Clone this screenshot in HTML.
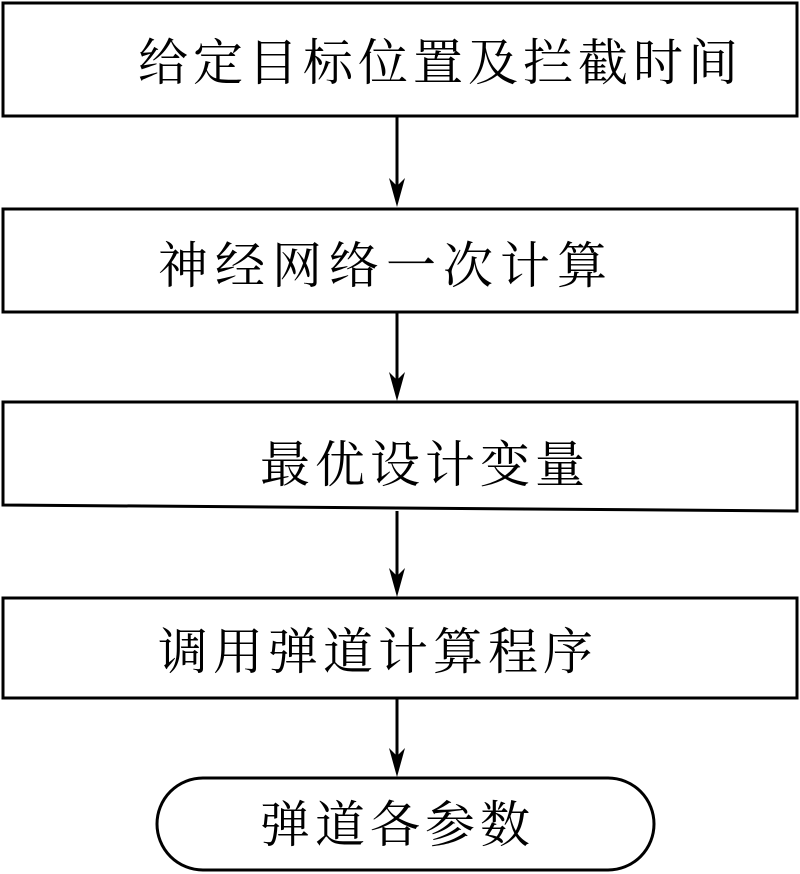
<!DOCTYPE html>
<html><head><meta charset="utf-8"><style>
html,body{margin:0;padding:0;background:#fff;}
svg{display:block;}
text{font-family:"Liberation Serif","Noto Serif CJK SC","Noto Sans CJK SC",serif;font-size:50px;fill:#000;letter-spacing:5px;}
</style></head><body>
<svg width="800" height="874" viewBox="0 0 800 874" xmlns="http://www.w3.org/2000/svg">
<g fill="none" stroke="#000" stroke-width="3">
<rect x="3" y="3" width="794" height="113"/>
<rect x="3" y="209" width="794" height="103"/>
<path d="M3 402 L797 402 L797 511 L3 505 Z"/>
<rect x="3" y="598" width="794" height="100"/>
<rect x="157" y="778" width="497" height="92" rx="46" ry="46"/>
<line x1="397" y1="116" x2="397" y2="196"/>
<line x1="397" y1="312" x2="397" y2="390"/>
<line x1="397" y1="511" x2="397" y2="586"/>
<line x1="397" y1="698" x2="397" y2="766"/>
</g>
<g fill="#000">
<path d="M389 178 L397 207 L405 178 L397 186 Z"/>
<path d="M389 372 L397 401 L405 372 L397 380 Z"/>
<path d="M389 568 L397 597 L405 568 L397 576 Z"/>
<path d="M389 748 L397 777 L405 748 L397 756 Z"/>
</g>
<text x="138" y="80">给定目标位置及拦截时间</text>
<text x="158" y="283" style="letter-spacing:7px">神经网络一次计算</text>
<text x="260" y="482">最优设计变量</text>
<text x="158" y="669">调用弹道计算程序</text>
<text x="260" y="842">弹道各参数</text>
</svg>
</body></html>
